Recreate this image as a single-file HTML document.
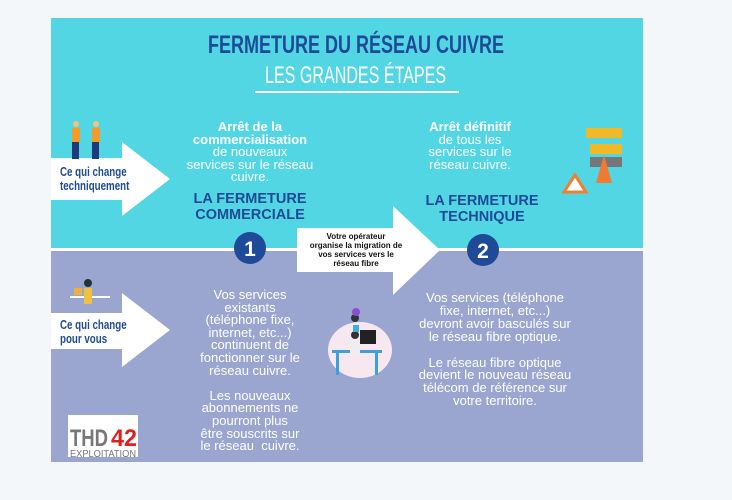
<!DOCTYPE html>
<html><head><meta charset="utf-8"><style>
body{margin:0;width:732px;height:500px;background:#f4f7fa;position:relative;overflow:hidden;font-family:"Liberation Sans",sans-serif}
.a{position:absolute}
.t{position:absolute;text-align:center;color:#fff;font-size:13px;line-height:12.6px}
.n{color:#1f4a97;font-weight:bold}
.c{position:absolute;font-weight:bold;color:#1f4a97;transform-origin:0 0}
</style></head><body>
<div class="a" style="left:51px;top:18px;width:592px;height:230px;background:#52d6e4"></div>
<div class="a" style="left:51px;top:248px;width:592px;height:3px;background:#fff"></div>
<div class="a" style="left:51px;top:251px;width:592px;height:211px;background:#9aa5d0"></div>
<div class="c" style="left:208px;top:31px;font-size:25px;transform:scaleX(0.72);white-space:nowrap;color:#1f4a97;width:410px">FERMETURE DU RÉSEAU CUIVRE</div>
<div class="a" style="left:265px;top:62px;font-size:24px;color:#fff;transform:scaleX(0.67);transform-origin:0 0;white-space:nowrap">LES GRANDES ÉTAPES</div>
<div class="a" style="left:255px;top:91px;width:204px;height:2px;background:#fff"></div>
<svg class="a" style="left:0;top:0" width="732" height="500">
<polygon points="51,158 122,158 122,142 170,179 122,216 122,200 51,200" fill="#fff"/>
<polygon points="51,313 122,313 122,293 170,330 122,367 122,349 51,349" fill="#fff"/>
<polygon points="297,228 393,228 393,206 440,250 393,295 393,272 297,272" fill="#fff"/>
<circle cx="250" cy="248" r="16" fill="#1f4a97"/>
<circle cx="483" cy="250" r="16" fill="#1f4a97"/>
<text x="250" y="256" font-size="21" font-weight="bold" fill="#fff" text-anchor="middle" font-family="Liberation Sans">1</text>
<text x="483" y="258" font-size="21" font-weight="bold" fill="#fff" text-anchor="middle" font-family="Liberation Sans">2</text>
<g><rect x="72" y="128" width="8" height="14" fill="#f39c2a"/><circle cx="76" cy="124" r="3" fill="#f4c27a"/><rect x="72" y="142" width="7" height="17" fill="#1f3a7a"/>
<rect x="92" y="128" width="8" height="14" fill="#f39c2a"/><circle cx="96" cy="124" r="3" fill="#f4c27a"/><rect x="92" y="142" width="7" height="17" fill="#1f3a7a"/></g>
<g><rect x="586" y="128" width="36" height="10" fill="#f0b92a"/><rect x="590" y="144" width="32" height="10" fill="#f0b92a"/><rect x="590" y="157" width="32" height="10" fill="#777"/>
<polygon points="575,175 564,192 586,192" fill="#fff" stroke="#f08030" stroke-width="3"/><polygon points="604,155 596,183 612,183" fill="#f07a30"/></g>
<g><rect x="70" y="296" width="40" height="2" fill="#fff"/><circle cx="88" cy="283" r="4" fill="#233"/><rect x="84" y="288" width="8" height="16" fill="#f0c040"/><rect x="74" y="288" width="8" height="7" fill="#f0b040"/></g>
<g><ellipse cx="360" cy="350" rx="32" ry="28" fill="#f7e8f0"/><rect x="332" y="350" width="50" height="3" fill="#3aa0e0"/><rect x="336" y="353" width="3" height="22" fill="#3aa0e0"/><rect x="375" y="353" width="3" height="22" fill="#3aa0e0"/><rect x="360" y="330" width="16" height="14" fill="#222"/><circle cx="355" cy="335" r="4" fill="#333"/><rect x="350" y="340" width="10" height="14" fill="#eee"/><circle cx="355" cy="318" r="4" fill="#333"/><rect x="353" y="325" width="6" height="7" fill="#3ab0e0"/><circle cx="356" cy="312" r="4" fill="#8a4fd0"/></g>
<rect x="68" y="415" width="70" height="42" fill="#fff"/>
<text x="70" y="446" font-size="24" font-weight="bold" fill="#777" font-family="Liberation Sans" textLength="38" lengthAdjust="spacingAndGlyphs">THD</text>
<text x="111" y="446" font-size="24" font-weight="bold" fill="#e02020" font-family="Liberation Sans" textLength="26" lengthAdjust="spacingAndGlyphs">42</text>
<text x="70" y="457" font-size="10" fill="#777" font-family="Liberation Sans" textLength="66" lengthAdjust="spacingAndGlyphs">EXPLOITATION</text>
</svg>
<div class="c" style="left:60px;top:165px;font-size:13px;line-height:14px;transform:scaleX(0.75)">Ce qui change<br>techniquement</div>
<div class="c" style="left:60px;top:318px;font-size:13px;line-height:14px;transform:scaleX(0.75)">Ce qui change<br>pour vous</div>
<div class="t" style="left:175px;top:121px;width:150px"><b>Arrêt de la<br>commercialisation</b><br>de nouveaux<br>services sur le réseau<br>cuivre.</div>
<div class="t" style="left:395px;top:121px;width:150px"><b>Arrêt définitif</b><br>de tous les<br>services sur le<br>réseau cuivre.</div>
<div class="t n" style="left:170px;top:192px;width:160px;font-size:14.5px;line-height:15.5px">LA FERMETURE<br>COMMERCIALE</div>
<div class="t n" style="left:402px;top:194px;width:160px;font-size:14.5px;line-height:15.5px">LA FERMETURE<br>TECHNIQUE</div>
<div class="t" style="left:297px;top:232px;width:118px;color:#111;font-weight:bold;font-size:8px;line-height:9px">Votre opérateur<br>organise la migration de<br>vos services vers le<br>réseau fibre</div>
<div class="t" style="left:180px;top:289px;width:140px">Vos services<br>existants<br>(téléphone fixe,<br>internet, etc...)<br>continuent de<br>fonctionner sur le<br>réseau cuivre.<br><br>Les nouveaux<br>abonnements ne<br>pourront plus<br>être souscrits sur<br>le réseau&nbsp; cuivre.</div>
<div class="t" style="left:400px;top:292px;width:190px;line-height:12.9px">Vos services (téléphone<br>fixe, internet, etc...)<br>devront avoir basculés sur<br>le réseau fibre optique.<br><br>Le réseau fibre optique<br>devient le nouveau réseau<br>télécom de référence sur<br>votre territoire.</div>
</body></html>
